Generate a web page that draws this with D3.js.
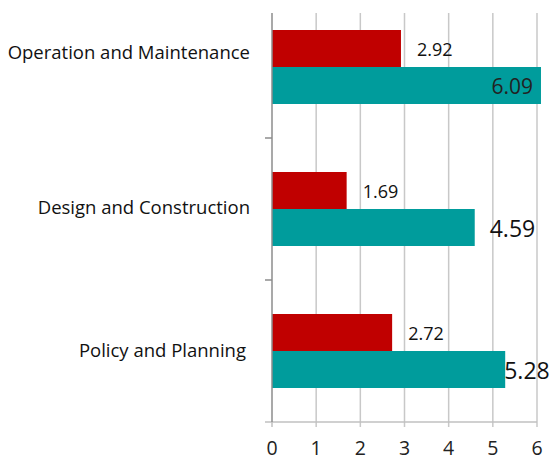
<!DOCTYPE html>
<html><head><meta charset="utf-8">
<script src="https://cdn.jsdelivr.net/npm/d3@7"></script>
<style>body{margin:0;background:#fff}svg{display:block}text{font-family:"Open Sans",sans-serif}</style>
</head><body><svg id="c" width="550" height="460"></svg>
<script>
const categories = ["Operation and Maintenance", "Design and Construction", "Policy and Planning"];
const seriesRed = [2.92, 1.69, 2.72];
const seriesTeal = [6.09, 4.59, 5.28];
const xTicks = [0, 1, 2, 3, 4, 5, 6];

const svg = d3.select("#c");
const x0 = 272, x1 = 537, yBottom = 422, gridTop = 13;
const x = d3.scaleLinear().domain([0, 6]).range([x0, x1]);
const y = d3.scaleBand().domain(categories).range([yBottom - 3 * 142, yBottom]);
const barH = 37;

// grid
svg.append("g").selectAll("line").data(xTicks.slice(1)).join("line")
  .attr("x1", d => x(d)).attr("x2", d => x(d))
  .attr("y1", gridTop).attr("y2", yBottom + 5)
  .attr("stroke", "#c8c8c8").attr("stroke-width", 1.5);
// bottom axis line + ticks
svg.append("line").attr("x1", 265).attr("x2", x(6)).attr("y1", yBottom).attr("y2", yBottom)
  .attr("stroke", "#c0c0c0").attr("stroke-width", 1.5);
svg.append("line").attr("x1", x0).attr("x2", x0).attr("y1", yBottom).attr("y2", yBottom + 5)
  .attr("stroke", "#c0c0c0").attr("stroke-width", 1.5);
svg.append("g").selectAll("text").data(xTicks).join("text")
  .attr("x", d => x(d)).attr("y", 448).attr("dy", "0.35em").attr("text-anchor", "middle")
  .attr("font-size", 19.5).attr("fill", "#222").text(d => d);

// bars
const g = svg.append("g");
categories.forEach((c, i) => {
  const cy = y(c) + y.bandwidth() / 2;
  g.append("rect").attr("x", x(0)).attr("y", cy - barH).attr("width", x(seriesRed[i]) - x(0)).attr("height", barH).attr("fill", "#c00000");
  g.append("rect").attr("x", x(0)).attr("y", cy).attr("width", x(seriesTeal[i]) - x(0)).attr("height", barH).attr("fill", "#009c9c");
});

// left axis
svg.append("line").attr("x1", x0).attr("x2", x0).attr("y1", gridTop).attr("y2", yBottom)
  .attr("stroke", "#8c8c8c").attr("stroke-width", 1.5);
[1, 2].forEach(k => {
  const yy = y.range()[0] + k * y.step();
  svg.append("line").attr("x1", 265).attr("x2", x0).attr("y1", yy).attr("y2", yy)
    .attr("stroke", "#8c8c8c").attr("stroke-width", 1.5);
});

// category labels
const catDy = [-14, -1, 0];
const catRight = [250, 250, 246];
svg.append("g").selectAll("text").data(categories).join("text")
  .attr("x", (d, i) => catRight[i])
  .attr("y", (d, i) => y(d) + y.bandwidth() / 2 + catDy[i]).attr("dy", "0.35em")
  .attr("text-anchor", "end").attr("font-size", 18.5).attr("fill", "#111").text(d => d);

// value labels
categories.forEach((c, i) => {
  const cy = y(c) + y.bandwidth() / 2;
  svg.append("text").attr("x", x(seriesRed[i]) + 16).attr("y", cy - barH / 2 + 1).attr("dy", "0.35em")
    .attr("font-size", 18).attr("fill", "#111").text(seriesRed[i].toFixed(2));
});
const tealSpec = [{anchor: "end", dx: -8, s: 21, fill: "#222"}, {anchor: "start", dx: 15, s: 23, fill: "#111"}, {anchor: "start", dx: -1, s: 23, fill: "#111"}];
categories.forEach((c, i) => {
  const cy = y(c) + y.bandwidth() / 2;
  const sp = tealSpec[i];
  svg.append("text").attr("x", x(seriesTeal[i]) + sp.dx).attr("y", cy + barH / 2 + 1).attr("dy", "0.35em")
    .attr("text-anchor", sp.anchor).attr("font-size", sp.s).attr("fill", sp.fill).text(seriesTeal[i].toFixed(2));
});
</script></body></html>
